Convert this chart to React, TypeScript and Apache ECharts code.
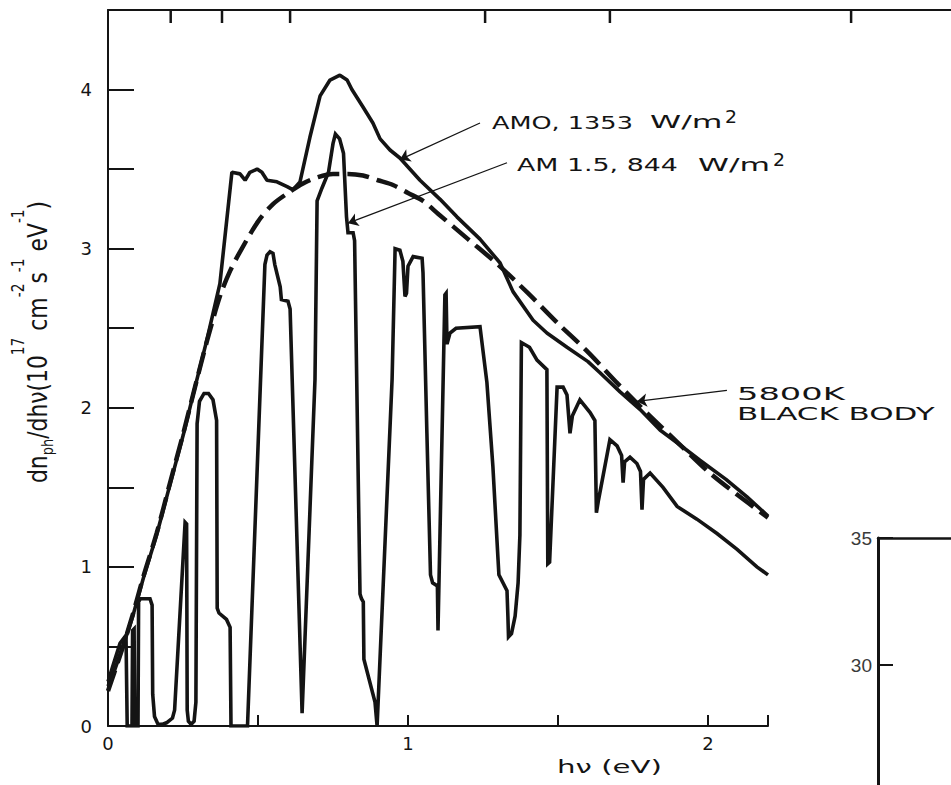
import React, { useEffect, useRef } from "react";
import * as echarts from "echarts";

// Photon flux density dn_ph/dhν (10^17 cm^-2 s^-1 eV^-1) versus photon energy hν (eV)

// 5800 K black body
const blackBody: [number, number][] = [
  [0, 0.22], [0.02, 0.33], [0.05, 0.5], [0.084, 0.71], [0.118, 0.94], [0.162, 1.21],
  [0.207, 1.53], [0.251, 1.84], [0.29, 2.13], [0.33, 2.42], [0.373, 2.7], [0.407, 2.86],
  [0.44, 2.98], [0.5, 3.17], [0.55, 3.28], [0.6, 3.35], [0.65, 3.41], [0.7, 3.45],
  [0.75, 3.47], [0.8, 3.47], [0.85, 3.46], [0.9, 3.43], [0.95, 3.4], [1.0, 3.35],
  [1.05, 3.3], [1.1, 3.22], [1.2, 3.06], [1.3, 2.9], [1.4, 2.72], [1.5, 2.53],
  [1.6, 2.35], [1.7, 2.15], [1.8, 1.96], [1.9, 1.78], [2.0, 1.6], [2.1, 1.45], [2.2, 1.31],
];

// AM0, 1353 W/m²
const am0: [number, number][] = [
  [0, 0.25], [0.02, 0.34], [0.05, 0.5], [0.084, 0.7], [0.118, 0.93], [0.162, 1.2],
  [0.207, 1.52], [0.251, 1.83], [0.29, 2.13], [0.33, 2.43], [0.373, 2.78], [0.413, 3.48],
  [0.44, 3.47], [0.457, 3.43], [0.473, 3.48], [0.497, 3.5], [0.513, 3.48], [0.53, 3.43],
  [0.563, 3.42], [0.597, 3.39], [0.617, 3.37], [0.64, 3.42], [0.673, 3.7], [0.707, 3.96],
  [0.74, 4.06], [0.773, 4.09], [0.797, 4.06], [0.813, 4.0], [0.85, 3.89], [0.883, 3.79],
  [0.907, 3.69], [0.94, 3.62], [0.973, 3.57], [1.04, 3.43], [1.107, 3.31], [1.163, 3.2],
  [1.24, 3.06], [1.307, 2.91], [1.35, 2.73], [1.417, 2.55], [1.463, 2.47], [1.53, 2.38],
  [1.6, 2.29], [1.64, 2.22], [1.707, 2.1], [1.773, 1.99], [1.84, 1.86], [1.897, 1.78],
  [1.973, 1.67], [2.06, 1.55], [2.13, 1.44], [2.2, 1.32],
];

// AM1.5, 844 W/m²
const am15: [number, number][] = [
  [0, 0.28], [0.02, 0.4], [0.04, 0.52], [0.06, 0.57], [0.062, 0.57], [0.064, 0],
  [0.08, 0], [0.082, 0.6], [0.087, 0.61], [0.089, 0], [0.1, 0], [0.102, 0.78],
  [0.108, 0.8], [0.14, 0.8], [0.147, 0.76], [0.149, 0.2], [0.155, 0.06], [0.167, 0.01],
  [0.18, 0.01], [0.195, 0.02], [0.215, 0.05], [0.222, 0.1], [0.257, 1.28], [0.262, 1.27],
  [0.264, 0.1], [0.268, 0.03], [0.277, 0.01], [0.287, 0.03], [0.293, 0.15], [0.297, 1.9],
  [0.305, 2.04], [0.32, 2.09], [0.335, 2.09], [0.35, 2.05], [0.362, 1.92], [0.364, 0.74],
  [0.37, 0.71], [0.395, 0.67], [0.407, 0.62], [0.41, 0], [0.465, 0], [0.523, 2.9],
  [0.53, 2.96], [0.54, 2.98], [0.55, 2.97], [0.556, 2.9], [0.574, 2.76], [0.578, 2.68],
  [0.6, 2.67], [0.607, 2.62], [0.647, 0.08], [0.69, 2.18], [0.697, 3.3], [0.713, 3.38],
  [0.735, 3.48], [0.75, 3.66], [0.758, 3.72], [0.772, 3.69], [0.785, 3.6], [0.795, 3.2],
  [0.8, 3.1], [0.817, 3.1], [0.822, 3.05], [0.84, 0.83], [0.845, 0.8], [0.851, 0.78],
  [0.853, 0.42], [0.89, 0.15], [0.897, 0], [0.947, 2.18], [0.957, 3.0], [0.973, 2.99],
  [0.983, 2.92], [0.99, 2.7], [0.995, 2.72], [1.0, 2.89], [1.017, 2.95], [1.047, 2.94],
  [1.05, 2.85], [1.063, 1.84], [1.075, 0.95], [1.082, 0.9], [1.098, 0.88], [1.1, 0.6],
  [1.123, 2.71], [1.127, 2.72], [1.13, 2.4], [1.14, 2.47], [1.16, 2.5], [1.24, 2.51],
  [1.263, 2.16], [1.283, 1.63], [1.3, 1.05], [1.303, 0.95], [1.33, 0.85], [1.333, 0.69],
  [1.335, 0.56], [1.345, 0.58], [1.357, 0.69], [1.367, 0.9], [1.373, 1.2], [1.378, 2.41],
  [1.405, 2.38], [1.43, 2.3], [1.463, 2.24], [1.466, 1.02], [1.472, 1.03], [1.497, 2.13],
  [1.517, 2.13], [1.53, 2.08], [1.54, 1.84], [1.548, 1.95], [1.573, 2.05], [1.607, 1.97],
  [1.623, 1.92], [1.628, 1.34], [1.635, 1.42], [1.673, 1.8], [1.697, 1.76], [1.712, 1.7],
  [1.717, 1.53], [1.722, 1.66], [1.74, 1.69], [1.763, 1.65], [1.775, 1.6], [1.78, 1.36],
  [1.785, 1.55], [1.807, 1.59], [1.85, 1.5], [1.897, 1.38], [1.963, 1.3], [2.03, 1.21],
  [2.097, 1.11], [2.163, 1.0], [2.2, 0.95],
];

// Labelled ticks
const xLabelValues = [0, 1, 2];
const yLabelValues = [0, 1, 2, 3, 4];
const insetLabelValues = [30, 35];
// Tick positions (eV) hanging from the upper frame
const topTickValues = [0.209, 0.38, 0.607, 1.257, 1.673, 2.477];

// Leader lines: [text end, curve end] in (eV, flux)
const am0Leader: [number, number][] = [[1.24, 3.79], [0.973, 3.56]];
const am15Leader: [number, number][] = [[1.33, 3.54], [0.8, 3.16]];
const bbLeader: [number, number][] = [[2.063, 2.11], [1.763, 2.04]];

const INK = "#141414";
const FONT = "DejaVu Sans";
const FRAME_TOP_PX = 10;
const TOP_TICK_PX = 13;

const leader = (pts: [number, number][]) => ({
  silent: true,
  symbol: ["none", "arrow"],
  symbolSize: 10,
  label: { show: false },
  emphasis: { disabled: true },
  lineStyle: { color: INK, width: 1.3, type: "solid" },
  data: [[{ coord: pts[0] }, { coord: pts[1] }]],
});

const note = (text: string, x: number, y: number, scaleX: number, size = 18) => ({
  type: "text",
  x,
  y,
  scaleX,
  silent: true,
  style: {
    text,
    fontSize: size,
    fontFamily: FONT,
    fill: INK,
    align: "left",
    verticalAlign: "middle",
    textAlign: "left",
    textVerticalAlign: "middle",
  },
});

export default function App() {
  const ref = useRef<HTMLDivElement>(null);

  useEffect(() => {
    if (!ref.current) return;
    const chart = echarts.init(ref.current, undefined, { renderer: "svg" });

    const axisLine = { show: true, onZero: false, lineStyle: { color: INK, width: 2 } };
    const tickStyle = { color: INK, width: 2 };

    const notes: any[] = [
      note("AMO, 1353", 492, 122, 1.42),
      note("W/m", 650, 122, 1.75),
      note("2", 725, 117, 1.05),
      note("AM 1.5, 844", 517, 165, 1.49),
      note("W/m", 698, 165, 1.74),
      note("2", 773, 160, 1.05),
      note("5800K", 737, 394, 1.87),
      note("BLACK BODY", 737, 414, 1.72),
      note("hν (eV)", 557, 767, 1.72, 17),
      {
        type: "text",
        x: 10,
        y: 483,
        rotation: Math.PI / 2,
        scaleX: 0.81,
        silent: true,
        style: {
          text: "{m|dn}{sub|ph}{m|/dhν(10}{sup|17}{m| cm}{sup|-2}{m|s}{sup|-1}{m| eV}{sup|-1}{m|)}",
          align: "left",
          verticalAlign: "top",
          fill: INK,
          rich: {
            m: { fontSize: 27, fontFamily: FONT, lineHeight: 56, verticalAlign: "middle", fill: INK },
            sup: { fontSize: 17, fontFamily: FONT, verticalAlign: "top", fill: INK },
            sub: { fontSize: 16, fontFamily: FONT, height: 38, verticalAlign: "bottom", fill: INK },
          },
        },
      },
    ];

    const option: any = {
      animation: false,
      backgroundColor: "#ffffff",
      grid: [
        { left: 108, top: FRAME_TOP_PX, width: 660, height: 716, outerBoundsMode: "none" },
        { left: 108, top: FRAME_TOP_PX, width: 843, height: 716, outerBoundsMode: "none" },
        { left: 878, top: 538, width: 200, height: 254, outerBoundsMode: "none" },
      ],
      xAxis: [
        {
          gridIndex: 0,
          type: "value",
          min: 0,
          max: 2.2,
          interval: 0.5,
          axisLine,
          axisTick: { show: true, inside: true, length: 11, lineStyle: tickStyle },
          axisLabel: {
            formatter: (v: number) => (xLabelValues.includes(v) ? String(v) : ""),
            margin: 8,
            fontSize: 18,
            fontFamily: FONT,
            color: INK,
          },
          splitLine: { show: false },
        },
        {
          gridIndex: 1,
          type: "value",
          position: "top",
          min: 0,
          max: 2.81,
          axisLine,
          axisTick: { show: false },
          axisLabel: { show: false },
          splitLine: { show: false },
        },
        {
          gridIndex: 2,
          type: "value",
          position: "top",
          min: 0,
          max: 1,
          axisLine: { show: true, lineStyle: { color: INK, width: 2.5 } },
          axisTick: { show: false },
          axisLabel: { show: false },
          splitLine: { show: false },
        },
      ],
      yAxis: [
        {
          gridIndex: 0,
          type: "value",
          min: 0,
          max: 4.5,
          interval: 0.5,
          axisLine,
          axisTick: { show: true, inside: true, length: 26, lineStyle: tickStyle },
          axisLabel: {
            formatter: (v: number) => (yLabelValues.includes(v) ? String(v) : ""),
            margin: 16,
            fontSize: 18,
            fontFamily: FONT,
            color: INK,
          },
          splitLine: { show: false },
        },
        { gridIndex: 1, type: "value", min: 0, max: 4.5, show: false },
        {
          gridIndex: 2,
          type: "value",
          min: 25,
          max: 35,
          interval: 5,
          axisLine: { show: true, lineStyle: { color: INK, width: 3 } },
          axisTick: { show: true, inside: true, length: 15, lineStyle: tickStyle },
          axisLabel: {
            formatter: (v: number) => (insetLabelValues.includes(v) ? String(v) : ""),
            margin: 6,
            fontSize: 19,
            fontFamily: "Liberation Sans",
            color: "#3a3a3a",
          },
          splitLine: { show: false },
        },
      ],
      series: [
        {
          type: "line",
          name: "5800K BLACK BODY",
          xAxisIndex: 0,
          yAxisIndex: 0,
          data: blackBody,
          symbol: "none",
          smooth: 0.3,
          lineStyle: { color: INK, width: 4.5, type: [22, 8] },
          markLine: leader(bbLeader),
        },
        {
          type: "line",
          name: "AMO",
          xAxisIndex: 0,
          yAxisIndex: 0,
          data: am0,
          symbol: "none",
          lineStyle: { color: INK, width: 3.6 },
          markLine: leader(am0Leader),
        },
        {
          type: "line",
          name: "AM 1.5",
          xAxisIndex: 0,
          yAxisIndex: 0,
          data: am15,
          symbol: "none",
          lineStyle: { color: INK, width: 3.6, join: "miter" },
          markLine: leader(am15Leader),
        },
      ],
      graphic: notes,
    };

    chart.setOption(option);

    // ticks on the upper frame, placed through the energy scale
    const topTicks = topTickValues.map((v) => {
      const px = chart.convertToPixel({ xAxisIndex: 0 }, v) as number;
      return {
        type: "line",
        silent: true,
        shape: { x1: px, y1: FRAME_TOP_PX, x2: px, y2: FRAME_TOP_PX + TOP_TICK_PX },
        style: { stroke: INK, lineWidth: 2.5 },
      };
    });
    chart.setOption({ graphic: [...notes, ...topTicks] });

    return () => chart.dispose();
  }, []);

  return (
    <div
      ref={ref}
      style={{ position: "absolute", left: 0, top: 0, width: 951, height: 785, background: "#fff" }}
    />
  );
}
